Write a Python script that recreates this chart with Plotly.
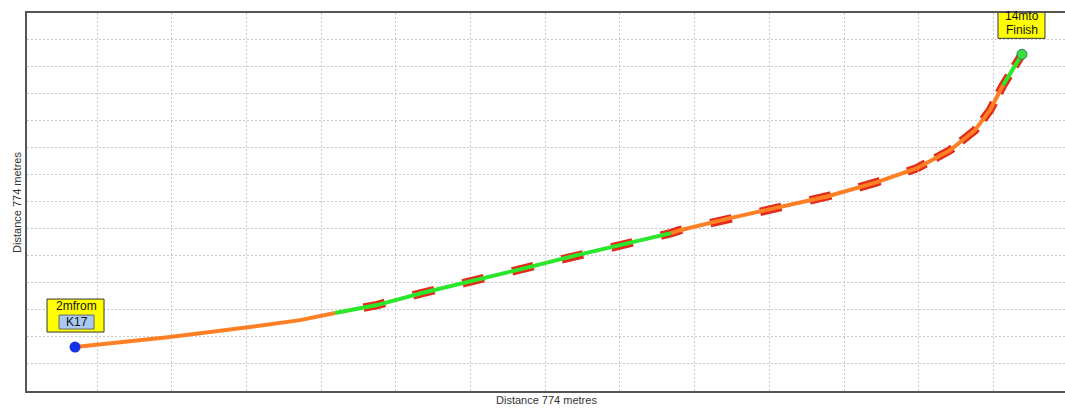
import plotly.graph_objects as go

# ---- data (metres) ----
path_x = [35.3, 98.9, 152.4, 185.9, 209.3, 237.4, 267.5, 301.7, 336.5, 371.3, 406.7,
          434.2, 440.2, 473.7, 507.1, 539.3, 572.1, 598.8, 620.9, 637.6, 647.7, 656.4, 669.1]
path_y = [40.6, 49.9, 59.1, 65.5, 72.0, 79.4, 90.5, 101.6, 113.6, 125.6, 136.6,
          145.9, 148.6, 159.7, 169.9, 180.0, 193.0, 205.9, 222.5, 241.0, 259.4, 282.5, 311.1]

# segments: (start index, end index, colour)
segments = [(0, 4, "#FF7F24"), (4, 11, "#2BE62B"), (11, 21, "#FF7F24"), (21, 22, "#2BE62B")]
# red dashed overlay ranges (start index, end index, dash pattern)
red_ranges = [(4, 17, "0px,29px,22px,0px"), (17, 22, "10px,11px,10px,0px")]

start_label = ["2mfrom", "K17"]
end_label = ["14mto", "Finish"]
x_title = "Distance 774 metres"
y_title = "Distance 774 metres"

x_range = [3.15, 697.9]
y_range = [0, 349.3]

fig = go.Figure()

for a, b, dash in red_ranges:
    fig.add_trace(go.Scatter(x=path_x[a:b + 1], y=path_y[a:b + 1], mode="lines",
                             line=dict(color="#E32B1B", width=8.5, dash=dash),
                             hoverinfo="skip", showlegend=False))

for a, b, col in segments:
    fig.add_trace(go.Scatter(x=path_x[a:b + 1], y=path_y[a:b + 1], mode="lines",
                             line=dict(color=col, width=4), hoverinfo="skip",
                             showlegend=False))

fig.add_trace(go.Scatter(x=[path_x[0]], y=[path_y[0]], mode="markers",
                         marker=dict(size=11, color="#1630E8", line=dict(width=0)),
                         showlegend=False))
fig.add_trace(go.Scatter(x=[path_x[-1]], y=[path_y[-1]], mode="markers",
                         marker=dict(size=10, color="#38E038", line=dict(width=1, color="#2A7A70")),
                         showlegend=False))

shapes = []
# start label boxes (pixel sized, anchored at start point)
shapes.append(dict(type="rect", xref="x", yref="y", layer="above",
                   xsizemode="pixel", ysizemode="pixel",
                   xanchor=path_x[0], yanchor=path_y[0],
                   x0=-28, x1=29, y0=15, y1=48,
                   fillcolor="#FFFF00", line=dict(color="#333333", width=1)))
shapes.append(dict(type="rect", xref="x", yref="y", layer="above",
                   xsizemode="pixel", ysizemode="pixel",
                   xanchor=path_x[0], yanchor=path_y[0],
                   x0=-16, x1=19, y0=18, y1=32,
                   fillcolor="#A9C9F1", line=dict(color="#666666", width=1)))
# end label box
shapes.append(dict(type="rect", xref="x", yref="y", layer="above",
                   xsizemode="pixel", ysizemode="pixel",
                   xanchor=path_x[-1], yanchor=path_y[-1],
                   x0=-24, x1=23, y0=16, y1=52,
                   fillcolor="#FFFF00", line=dict(color="#333333", width=1)))

font_lbl = dict(family="Liberation Sans, Arial", size=12, color="#111111")
annotations = [
    dict(x=path_x[0], y=path_y[0], xref="x", yref="y", text=start_label[0], showarrow=False,
         xshift=1, yshift=41, font=font_lbl),
    dict(x=path_x[0], y=path_y[0], xref="x", yref="y", text=start_label[1], showarrow=False,
         xshift=2, yshift=25, font=font_lbl),
    dict(x=path_x[-1], y=path_y[-1], xref="x", yref="y", text=end_label[0], showarrow=False,
         xshift=0, yshift=38, font=font_lbl),
    dict(x=path_x[-1], y=path_y[-1], xref="x", yref="y", text=end_label[1], showarrow=False,
         xshift=0, yshift=24, font=font_lbl),
    dict(x=0.5, y=-0.024, xref="paper", yref="paper", text=x_title, showarrow=False,
         yanchor="middle", font=dict(family="Liberation Sans, Arial", size=11, color="#333333")),
    dict(x=-0.0097, y=0.5, xref="paper", yref="paper", text=y_title, showarrow=False,
         textangle=-90, xanchor="center", yanchor="middle",
         font=dict(family="Liberation Sans, Arial", size=11, color="#333333")),
]

axis_common = dict(showgrid=True, gridcolor="#C8C8C8", gridwidth=1, griddash="2px,2px",
                   showticklabels=False, ticks="", zeroline=False, showline=True,
                   linecolor="#555555", linewidth=2, fixedrange=True)

fig.update_layout(
    width=1065, height=411,
    margin=dict(l=27, r=0, t=13, b=20, autoexpand=False),
    paper_bgcolor="white", plot_bgcolor="white",
    xaxis=dict(range=x_range, dtick=50, tick0=0, mirror=True, **axis_common),
    yaxis=dict(range=y_range, dtick=25, tick0=0, mirror=False, **axis_common),
    shapes=shapes, annotations=annotations,
    font=dict(family="Liberation Sans, Arial"),
)

fig.write_html("out.html", config={"displayModeBar": False},
               post_script="document.body.style.margin='0';document.body.style.overflow='hidden';")
